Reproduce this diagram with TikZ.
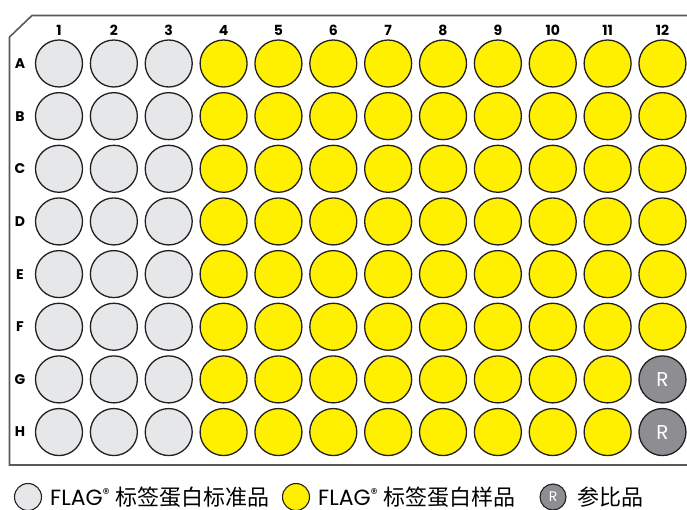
\documentclass[tikz,border=0pt]{standalone}
\usepackage{fontspec}
\setmainfont{Poppins}
\newfontfamily\cjk{Noto Sans CJK SC}
\definecolor{wellyellow}{HTML}{FFF000}
\definecolor{wellgray}{HTML}{E6E7E8}
\definecolor{refgray}{HTML}{8D8D92}
\definecolor{edge}{HTML}{231F20}
\definecolor{plate}{HTML}{58595B}
\begin{document}
\begin{tikzpicture}[x=1pt,y=-1pt,
  well/.style={circle,draw=edge,line width=1.3pt,minimum size=47pt,inner sep=0pt},
  std/.style={well,fill=wellgray},
  smp/.style={well,fill=wellyellow},
  ref/.style={well,fill=refgray,text=white,font=\fontsize{20}{20}\selectfont},
  lwell/.style={circle,draw=edge,line width=1.1pt,minimum size=27pt,inner sep=0pt},
  collab/.style={font=\fontsize{14}{14}\selectfont\bfseries},
  rowlab/.style={font=\fontsize{14}{14}\selectfont\bfseries},
  legtext/.style={anchor=west,font=\fontsize{22}{22}\selectfont,inner sep=0pt}]
\useasboundingbox (0,0) rectangle (687,510);
\draw[plate,line width=1.6pt] (700,15.5) -- (32,15.5) -- (9.5,37) -- (9.5,465) -- (700,465);
\foreach \c in {1,...,12}{
  \node[collab] (col\c) at ({59+(\c-1)*54.86},30) {\c};
}
\foreach \r [count=\i from 0] in {A,B,C,D,E,F,G,H}{
  \node[rowlab] (row\r) at (20,{63.5+\i*52.65}) {\r};
  \foreach \c in {1,2,3}{
    \node[std] (w\r\c) at ({59+(\c-1)*54.86},{63.5+\i*52.65}) {};
  }
  \foreach \c in {4,...,11}{
    \node[smp] (w\r\c) at ({59+(\c-1)*54.86},{63.5+\i*52.65}) {};
  }
}
\foreach \r [count=\i from 0] in {A,B,C,D,E,F}{
  \node[smp] (w\r12) at ({59+11*54.86},{63.5+\i*52.65}) {};
}
\node[ref] (wG12) at ({59+11*54.86},{63.5+6*52.65}) {R};
\node[ref] (wH12) at ({59+11*54.86},{63.5+7*52.65}) {R};
% legend
\node[lwell,fill=wellgray] (l1) at (28,497) {};
\node[legtext] (t1) at (50,497) {FLAG\raisebox{0.55ex}{\fontsize{14}{14}\selectfont ®} {\cjk 标签蛋白标准品}};
\node[lwell,fill=wellyellow] (l2) at (296,497) {};
\node[legtext] (t2) at (318,497) {FLAG\raisebox{0.55ex}{\fontsize{14}{14}\selectfont ®} {\cjk 标签蛋白样品}};
\node[lwell,fill=refgray,text=white,font=\fontsize{14}{14}\selectfont,minimum size=26pt] (l3) at (553,497) {R};
\node[legtext] (t3) at (577,497) {\cjk 参比品};
\end{tikzpicture}
\end{document}
